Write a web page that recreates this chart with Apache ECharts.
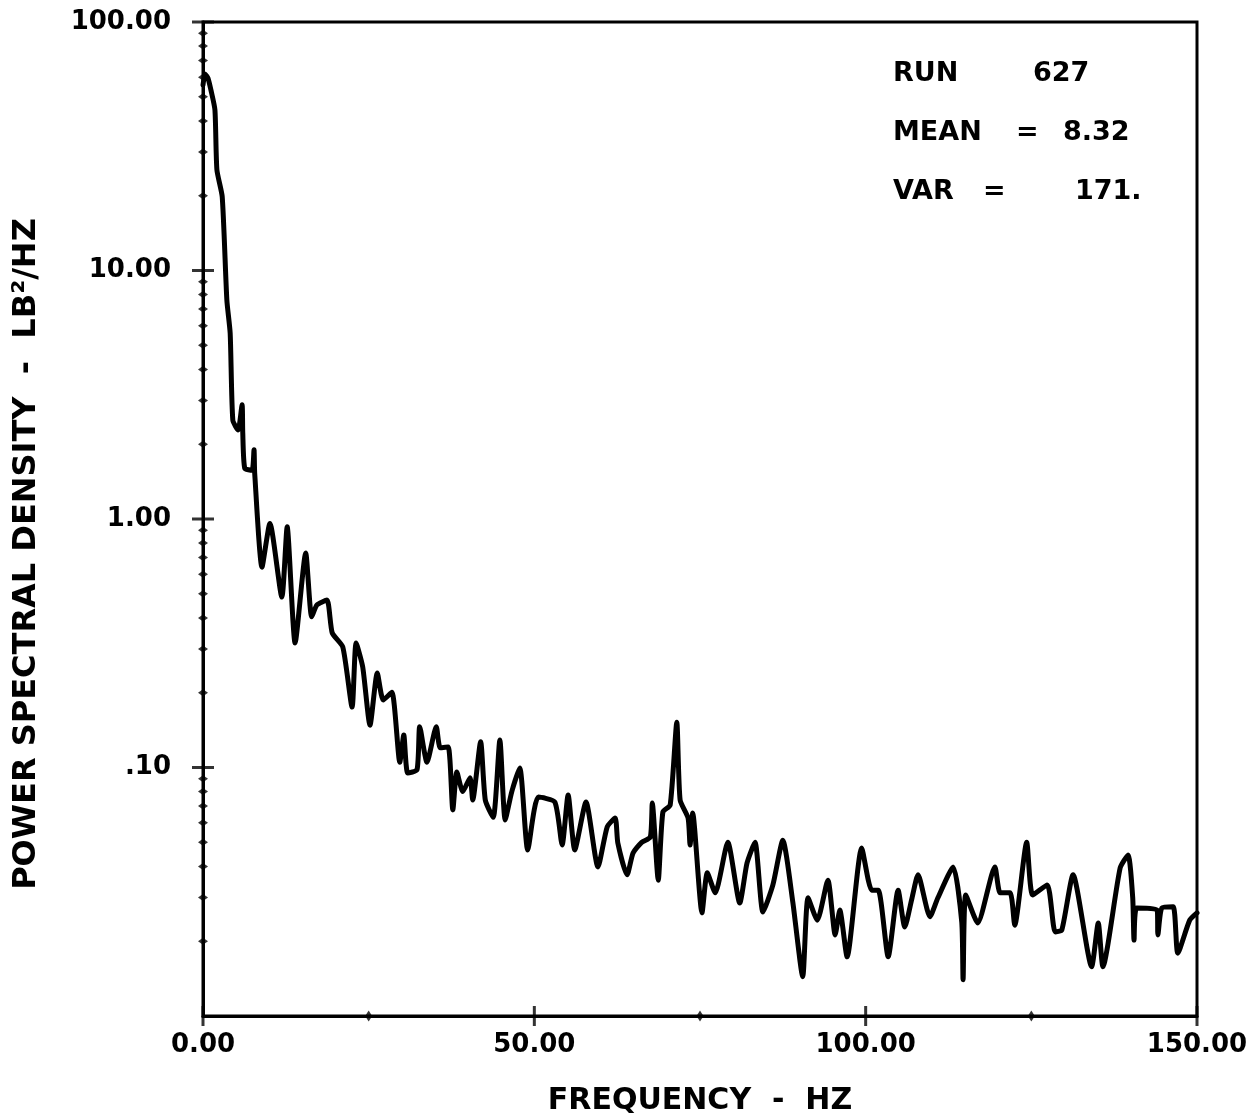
<!DOCTYPE html>
<html>
<head>
<meta charset="utf-8">
<title>PSD run 627</title>
<script src="https://cdn.jsdelivr.net/npm/echarts@6/dist/echarts.min.js"></script>
<style>
  html, body { margin: 0; padding: 0; background: #fff; }
  #chart-psd { width: 1257px; height: 1120px; }
</style>
</head>
<body>
<div id="chart-psd"></div>
<script>
// ============================
// Datos
// ============================
var freqHz = [
    0, 0.3, 0.75, 1.2, 1.8, 2.1, 2.9, 3.6, 4.1, 4.5,
    5.3, 5.9, 6.0, 6.3, 7.4, 7.7, 7.8, 8.9, 10.1, 11.9,
    12.7, 13.9, 15.5, 16.4, 17.2, 18.7, 19.5, 21.1, 22.5, 23.1,
    24.1, 25.2, 26.3, 27.2, 28.5, 29.7, 30.3, 30.9, 32.3, 32.7,
    33.8, 35.2, 35.8, 37.0, 37.7, 38.3, 39.2, 40.3, 40.7, 41.9,
    42.6, 43.8, 44.8, 45.6, 46.6, 47.8, 49.0, 50.6, 53.1, 54.2,
    55.1, 56.1, 57.8, 59.6, 61.0, 62.2, 62.6, 64.0, 64.9, 66.2,
    67.5, 67.8, 68.7, 69.4, 70.5, 71.5, 72.0, 73.2, 73.5, 73.9,
    75.3, 76.1, 77.3, 79.2, 81.0, 82.1, 83.3, 84.5, 86.0, 87.5,
    89.0, 90.5, 91.3, 92.7, 94.3, 95.4, 96.1, 97.2, 99.4, 100.9,
    101.9, 103.4, 104.9, 105.9, 107.0, 107.9, 109.7, 110.9, 113.2, 114.5,
    114.7, 115.1, 116.9, 119.5, 120.3, 121.8, 122.5, 124.3, 125.2, 127.4,
    128.6, 129.6, 131.3, 134.1, 135.1, 135.8, 138.4, 139.6, 140.3, 140.5,
    140.9, 144.0, 144.1, 144.7, 146.4, 147.1, 148.9, 150.0
];
var psd = [
    55.8, 61.8, 59.5, 53.2, 44.3, 25.4, 19.8, 7.6, 5.6, 2.50,
    2.28, 2.88, 2.22, 1.60, 1.57, 1.90, 1.53, 0.64, 0.96, 0.485,
    0.93, 0.317, 0.73, 0.404, 0.451, 0.472, 0.348, 0.305, 0.175, 0.317,
    0.254, 0.148, 0.240, 0.187, 0.201, 0.105, 0.135, 0.095, 0.098, 0.146,
    0.105, 0.146, 0.120, 0.121, 0.0675, 0.096, 0.080, 0.091, 0.074, 0.127,
    0.074, 0.063, 0.129, 0.0615, 0.080, 0.0995, 0.0466, 0.076, 0.0726, 0.0488,
    0.0775, 0.0466, 0.0726, 0.0398, 0.0577, 0.0626, 0.0497, 0.037, 0.0453, 0.050,
    0.0525, 0.072, 0.0352, 0.0662, 0.0706, 0.152, 0.074, 0.0626, 0.0488, 0.0656,
    0.026, 0.0377, 0.0313, 0.050, 0.0285, 0.0413, 0.050, 0.0262, 0.0337, 0.051,
    0.0288, 0.0144, 0.0299, 0.0243, 0.0352, 0.0212, 0.0267, 0.0173, 0.0474, 0.0321,
    0.0321, 0.0173, 0.0321, 0.0228, 0.0299, 0.037, 0.0251, 0.0299, 0.0398, 0.0239,
    0.0140, 0.0307, 0.0237, 0.0398, 0.0313, 0.0313, 0.0232, 0.050, 0.0307, 0.0337,
    0.0218, 0.0222, 0.037, 0.0158, 0.0237, 0.0158, 0.0394, 0.0445, 0.0299, 0.0202,
    0.0272, 0.0267, 0.0212, 0.0272, 0.0275, 0.0179, 0.0243, 0.026
];

// Marcas de los ejes
var yMajorTicks = [0.1, 1, 10, 100];
var yMajorLabels = [".10", "1.00", "10.00", "100.00"];
var yMinorTicks = [
    0.02, 0.03, 0.04, 0.05, 0.06, 0.07, 0.08, 0.09,
    0.2, 0.3, 0.4, 0.5, 0.6, 0.7, 0.8, 0.9,
    2, 3, 4, 5, 6, 7, 8, 9,
    20, 30, 40, 50, 60, 70, 80, 90
];
var xMajorTicks = [0, 50, 100, 150];
var xMinorTicks = [25, 75, 125];

// Texto del recuadro
var runInfo = [
    { label: "RUN", eq: "", value: "627" },
    { label: "MEAN", eq: "=", value: "8.32" },
    { label: "VAR", eq: "=", value: "171." }
];

var FONT = "DejaVu Sans";

// ============================
// Grafica
// ============================
var chartPsd = echarts.init(document.getElementById("chart-psd"));

var infoText = [];
var infoX = { label: 893, eq: [0, 1016, 983], value: [1033, 1063, 1075] };
runInfo.forEach((r, i) => {
    var y = 74 + i * 59;
    var base = { fill: "#000", font: "bold 27px " + FONT, textVerticalAlign: "middle", verticalAlign: "middle" };
    infoText.push({ type: "text", style: Object.assign({ text: r.label, x: infoX.label, y: y }, base) });
    if (r.eq) infoText.push({ type: "text", style: Object.assign({ text: r.eq, x: infoX.eq[i], y: y }, base) });
    infoText.push({ type: "text", style: Object.assign({ text: r.value, x: infoX.value[i], y: y }, base) });
});

chartPsd.setOption({
    animation: false,
    backgroundColor: "#fff",
    grid: {
        left: 203, right: 60, top: 22, bottom: 104,
        containLabel: false,
        outerBoundsMode: "none",
        show: true, borderColor: "#000", borderWidth: 3, backgroundColor: "transparent"
    },
    xAxis: {
        type: "value",
        min: 0, max: 150, interval: 50,
        name: "FREQUENCY  -  HZ",
        nameLocation: "middle",
        nameGap: 70,
        nameTextStyle: { color: "#000", fontFamily: FONT, fontWeight: "bold", fontSize: 30 },
        axisLine: { show: true, lineStyle: { color: "#000", width: 3 } },
        axisTick: { show: false },
        splitLine: { show: false },
        axisLabel: {
            color: "#000", fontFamily: FONT, fontWeight: "bold", fontSize: 26, margin: 16,
            formatter: v => v.toFixed(2)
        }
    },
    yAxis: {
        type: "log",
        logBase: 10,
        min: 0.01, max: 100,
        name: "POWER SPECTRAL DENSITY  -  LB²/HZ",
        nameLocation: "middle",
        nameGap: 160,
        nameTextStyle: { color: "#000", fontFamily: FONT, fontWeight: "bold", fontSize: 32, padding: [0, 70, 0, 0] },
        axisLine: { show: true, lineStyle: { color: "#000", width: 3 } },
        axisTick: { show: false },
        splitLine: { show: false },
        axisLabel: {
            color: "#000", fontFamily: FONT, fontWeight: "bold", fontSize: 26, margin: 32,
            formatter: v => {
                var k = yMajorTicks.findIndex(t => Math.abs(t - v) / t < 1e-6);
                return k >= 0 ? yMajorLabels[k] : "";
            }
        }
    },
    graphic: infoText,
    series: [
        {
            name: "PSD",
            type: "line",
            data: freqHz.map((f, i) => [f, psd[i]]),
            showSymbol: false,
            symbol: "none",
            smooth: 0.2,
            lineStyle: { color: "#000", width: 5, join: "round", cap: "round" },
            z: 3
        },
        {
            name: "y-major",
            type: "scatter",
            data: yMajorTicks.map(v => [0, v]),
            symbol: "rect",
            symbolSize: [22, 3],
            itemStyle: { color: "#000" },
            clip: false,
            silent: true
        },
        {
            name: "y-minor",
            type: "scatter",
            data: yMinorTicks.map(v => [0, v]),
            symbol: "diamond",
            symbolSize: [10, 7],
            itemStyle: { color: "#000" },
            clip: false,
            silent: true
        },
        {
            name: "x-major",
            type: "scatter",
            data: xMajorTicks.map(v => [v, 0.01]),
            symbol: "rect",
            symbolSize: [3, 20],
            itemStyle: { color: "#000" },
            clip: false,
            silent: true
        },
        {
            name: "x-minor",
            type: "scatter",
            data: xMinorTicks.map(v => [v, 0.01]),
            symbol: "diamond",
            symbolSize: [7, 11],
            itemStyle: { color: "#000" },
            clip: false,
            silent: true
        }
    ]
});
</script>
</body>
</html>
